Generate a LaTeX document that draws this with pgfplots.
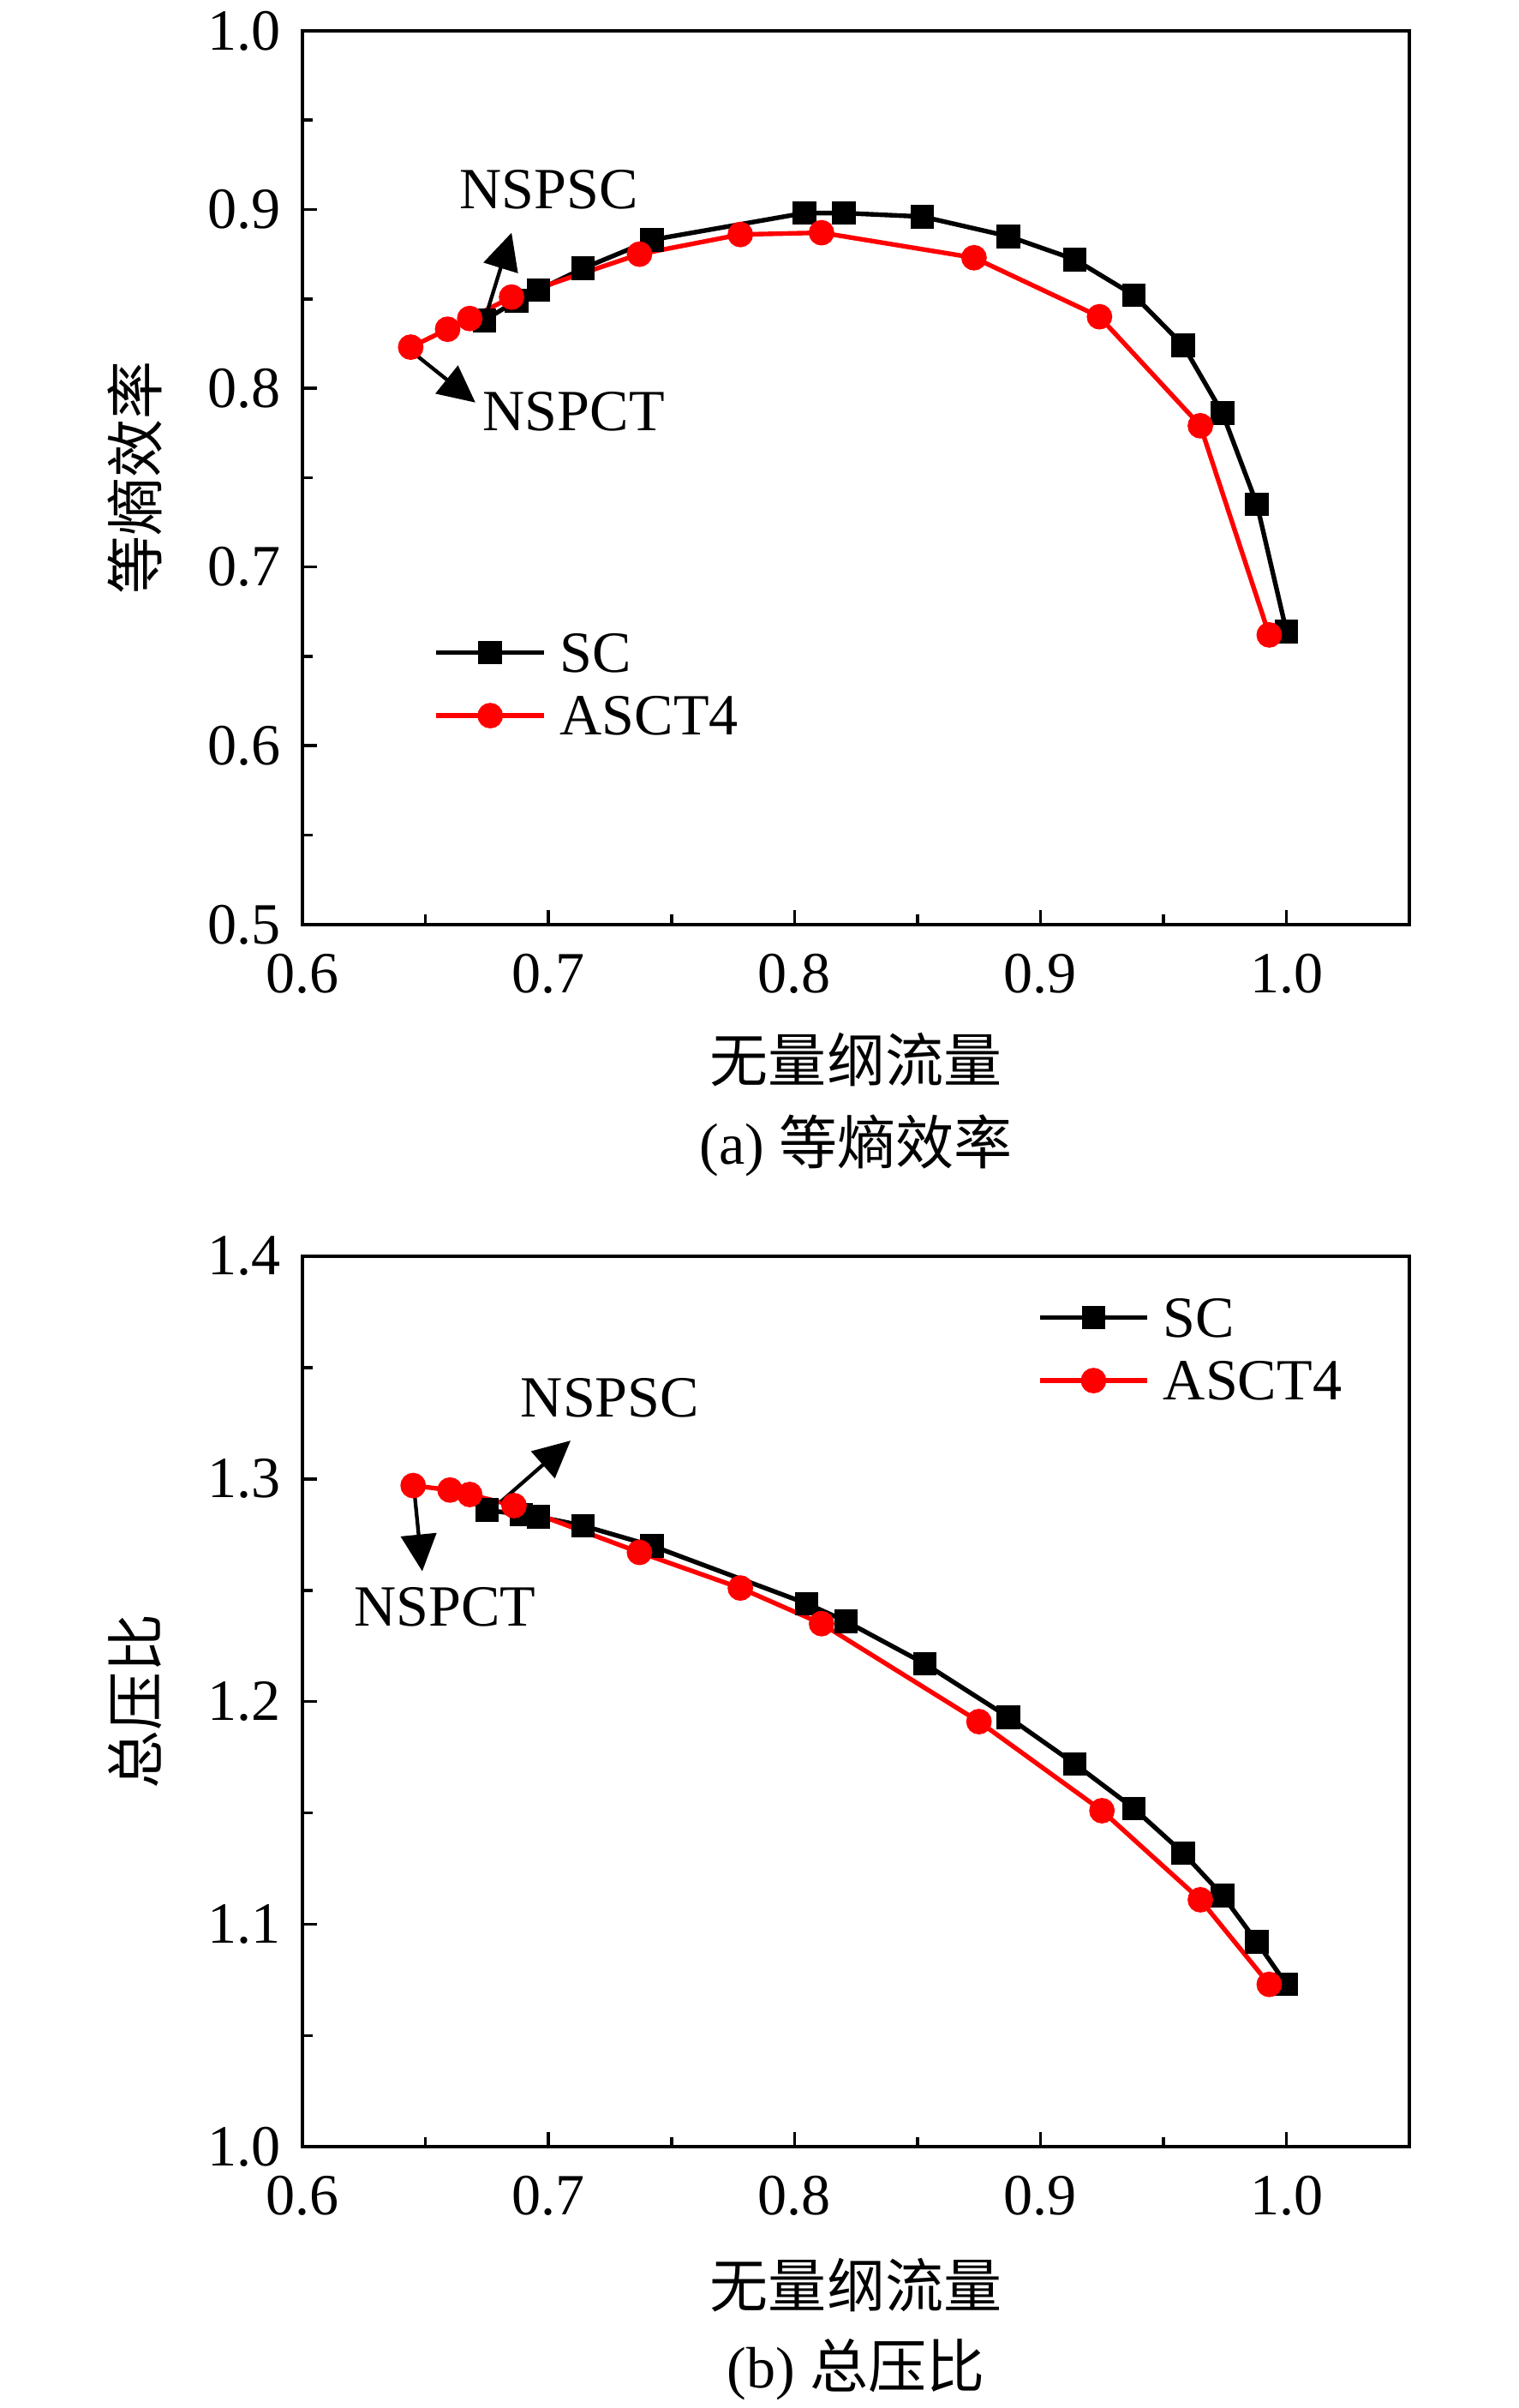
\documentclass[border=0pt]{standalone}
\usepackage{fontspec}
\setmainfont{Liberation Serif}
\newfontfamily\cjk{Noto Sans CJK SC}
\usepackage{pgfplots}
\pgfplotsset{compat=1.18}
\usetikzlibrary{arrows.meta}

\tikzset{annarrow/.style={black, line width=1.2pt, -{Triangle[length=12pt,width=11.5pt]}}}
\pgfplotsset{
  myaxis/.style={
    scale only axis, width=360.5pt,
    xmin=0.6, xmax=1.05,
    xtick={0.6,0.7,0.8,0.9,1.0},
    minor x tick num=1, minor y tick num=1,
    tick align=inside, xtick pos=left, ytick pos=left,
    major tick length=4.8pt, minor tick length=3.2pt,
    every tick/.style={black, line width=1pt},
    axis line style={line width=1.1pt},
    /pgf/number format/fixed,
    /pgf/number format/fixed zerofill,
    /pgf/number format/precision=1,
    /pgf/number format/assume math mode=true,
    xticklabel style={anchor=center, yshift=-16pt, inner sep=0pt},
    yticklabel style={anchor=east, xshift=-7pt, inner sep=0pt},
    legend cell align=left,
    legend image code/.code={\draw[mark repeat=2, mark phase=2, ##1] plot coordinates {(0pt,0pt) (17.5pt,0pt) (35pt,0pt)};},
  },
  scser/.style={black, line width=1.5pt, mark=square*, mark size=3.1pt, mark options={solid, fill=black}},
  asser/.style={red, line width=1.5pt, mark=*, mark size=3.4pt, mark options={solid, fill=red, draw=red}},
}

\begin{document}
\begin{tikzpicture}[font=\fontsize{19}{22}\selectfont]
\useasboundingbox (-98.5pt,-483pt) rectangle (396pt,301pt);

% ---------------- (a) ----------------
\begin{axis}[myaxis, height=291pt,
  at={(0pt,0pt)}, anchor=south west,
  ymin=0.5, ymax=1.0, ytick={0.5,0.6,0.7,0.8,0.9,1.0},
  legend style={draw=none, fill=none, at={(rel axis cs:0.119,0.3256)}, anchor=north west,
    inner sep=0pt, outer sep=0pt, column sep=4.5pt, row sep=8pt,
    nodes={inner sep=0pt, text height=12.5pt, text depth=0pt}},
]
\addplot[scser] coordinates {
(0.674,0.838) (0.687,0.849) (0.696,0.855) (0.714,0.867) (0.742,0.883)
(0.804,0.898) (0.820,0.898) (0.852,0.896) (0.887,0.885) (0.914,0.872)
(0.938,0.852) (0.958,0.824) (0.974,0.786) (0.988,0.735) (1.000,0.664)};
\addlegendentry{SC}
\addplot[asser] coordinates {
(0.644,0.823) (0.659,0.833) (0.668,0.839) (0.685,0.851) (0.737,0.875)
(0.778,0.886) (0.811,0.887) (0.873,0.873) (0.924,0.840) (0.965,0.779)
(0.993,0.662)};
\addlegendentry{ASCT4}
\draw[annarrow] (axis cs:0.674,0.838) -- (axis cs:0.685,0.887);
\draw[annarrow] (axis cs:0.644,0.821) -- (axis cs:0.6703,0.792);
\node[inner sep=0pt] at (axis cs:0.7002,0.9109) {NSPSC};
\node[inner sep=0pt] at (axis cs:0.7103,0.787) {NSPCT};
\end{axis}

% ---------------- (b) ----------------
\begin{axis}[myaxis, height=290pt,
  at={(0pt,-398pt)}, anchor=south west,
  ymin=1.0, ymax=1.4, ytick={1.0,1.1,1.2,1.3,1.4},
  legend style={draw=none, fill=none, at={(rel axis cs:0.664,0.9526)}, anchor=north west,
    inner sep=0pt, outer sep=0pt, column sep=4.5pt, row sep=8pt,
    nodes={inner sep=0pt, text height=12.5pt, text depth=0pt}},
]
\addplot[scser] coordinates {
(0.675,1.286) (0.689,1.284) (0.696,1.283) (0.714,1.279) (0.742,1.270)
(0.805,1.244) (0.821,1.236) (0.853,1.217) (0.887,1.193) (0.914,1.172)
(0.938,1.152) (0.958,1.132) (0.974,1.113) (0.988,1.092) (1.000,1.073)};
\addlegendentry{SC}
\addplot[asser] coordinates {
(0.645,1.297) (0.660,1.295) (0.668,1.293) (0.686,1.288) (0.737,1.267)
(0.778,1.251) (0.811,1.235) (0.875,1.191) (0.925,1.151) (0.965,1.111)
(0.993,1.073)};
\addlegendentry{ASCT4}
\draw[annarrow] (axis cs:0.6807,1.2898) -- (axis cs:0.709,1.3172);
\draw[annarrow] (axis cs:0.6452,1.2974) -- (axis cs:0.6487,1.2585);
\node[inner sep=0pt] at (axis cs:0.725,1.3362) {NSPSC};
\node[inner sep=0pt] at (axis cs:0.658,1.2423) {NSPCT};
\end{axis}

% ---------------- labels and captions ----------------
\node[inner sep=0pt] at (180.25pt,-44pt) {\cjk 无量纲流量};
\node[inner sep=0pt] at (180.25pt,-72pt) {(a) {\cjk 等熵效率}};
\node[inner sep=0pt, rotate=90] at (-54.5pt,145.5pt) {\cjk 等熵效率};
\node[inner sep=0pt] at (180.25pt,-443pt) {\cjk 无量纲流量};
\node[inner sep=0pt] at (180.25pt,-470.5pt) {(b) {\cjk 总压比}};
\node[inner sep=0pt, rotate=90] at (-54.5pt,-253pt) {\cjk 总压比};
\end{tikzpicture}
\end{document}
